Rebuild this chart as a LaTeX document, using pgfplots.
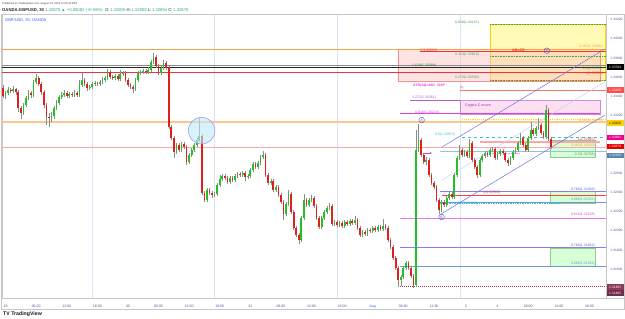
\documentclass[border=0pt]{standalone}
\usepackage{fontspec}
\setmainfont{Liberation Sans}
\usepackage{pgfplots}
\pgfplotsset{compat=1.18}
\usepackage{pgfplotstable}
\usetikzlibrary{arrows.meta}
\newcommand{\fs}[1]{\fontsize{#1}{#1}\selectfont}
\definecolor{cup}{HTML}{22C022}
\definecolor{cdn}{HTML}{E0201C}
\definecolor{wick}{HTML}{8C8C8C}
\definecolor{tvblue}{HTML}{2962FF}
\definecolor{axtxt}{HTML}{4A5A9A}
\definecolor{tvteal}{HTML}{26A69A}
\definecolor{sep}{HTML}{D6E4F5}
\definecolor{fgreen}{HTML}{4C9A4C}
\definecolor{lorange}{HTML}{F7A345}
\definecolor{lred}{HTML}{E53935}
\definecolor{pmag}{HTML}{E040E0}
\definecolor{ppur}{HTML}{B060C8}
\definecolor{lblue}{HTML}{8080F0}
\definecolor{lsteel}{HTML}{6A9BD0}
\definecolor{lcyan}{HTML}{30C0E0}
\definecolor{maroon}{HTML}{8B3A5A}
\definecolor{chan}{HTML}{7070E8}

\pgfplotstableread{
i o h l c
0 1.33486 1.33518 1.33382 1.33403
1 1.33403 1.33455 1.33372 1.33434
2 1.33434 1.33497 1.33414 1.33466
3 1.33466 1.33486 1.33434 1.33455
4 1.33455 1.33507 1.33434 1.33476
5 1.33476 1.33486 1.33414 1.33445
6 1.33445 1.33466 1.33236 1.33278
7 1.33278 1.33299 1.33164 1.33226
8 1.33226 1.33330 1.33205 1.33309
9 1.33309 1.33403 1.33289 1.33382
10 1.33382 1.33466 1.33361 1.33434
11 1.33434 1.33455 1.33382 1.33414
12 1.33414 1.33570 1.33393 1.33549
13 1.33549 1.33632 1.33528 1.33591
14 1.33591 1.33611 1.33507 1.33528
15 1.33528 1.33549 1.33414 1.33445
16 1.33445 1.33466 1.33278 1.33309
17 1.33309 1.33330 1.33101 1.33184
18 1.33184 1.33226 1.33080 1.33174
19 1.33174 1.33236 1.33132 1.33195
20 1.33195 1.33299 1.33164 1.33278
21 1.33278 1.33361 1.33257 1.33330
22 1.33330 1.33414 1.33309 1.33393
23 1.33393 1.33445 1.33372 1.33414
24 1.33414 1.33466 1.33393 1.33434
25 1.33434 1.33455 1.33382 1.33403
26 1.33403 1.33445 1.33382 1.33424
27 1.33424 1.33445 1.33393 1.33414
28 1.33414 1.33466 1.33393 1.33434
29 1.33434 1.33455 1.33393 1.33414
30 1.33414 1.33570 1.33393 1.33518
31 1.33518 1.33643 1.33497 1.33570
32 1.33570 1.33591 1.33507 1.33528
33 1.33528 1.33549 1.33455 1.33486
34 1.33486 1.33518 1.33466 1.33497
35 1.33497 1.33549 1.33476 1.33528
36 1.33528 1.33559 1.33507 1.33539
37 1.33539 1.33549 1.33507 1.33528
38 1.33528 1.33570 1.33507 1.33549
39 1.33549 1.33601 1.33528 1.33570
40 1.33570 1.33611 1.33549 1.33591
41 1.33591 1.33684 1.33570 1.33653
42 1.33653 1.33674 1.33580 1.33601
43 1.33601 1.33622 1.33570 1.33591
44 1.33591 1.33632 1.33570 1.33611
45 1.33611 1.33632 1.33559 1.33580
46 1.33580 1.33674 1.33559 1.33632
47 1.33632 1.33663 1.33611 1.33643
48 1.33643 1.33663 1.33549 1.33570
49 1.33570 1.33591 1.33497 1.33518
50 1.33518 1.33539 1.33476 1.33497
51 1.33497 1.33518 1.33434 1.33476
52 1.33476 1.33591 1.33455 1.33570
53 1.33570 1.33663 1.33549 1.33643
54 1.33643 1.33674 1.33622 1.33653
55 1.33653 1.33684 1.33632 1.33663
56 1.33663 1.33684 1.33632 1.33653
57 1.33653 1.33705 1.33632 1.33674
58 1.33674 1.33778 1.33653 1.33757
59 1.33757 1.33851 1.33736 1.33809
60 1.33809 1.33830 1.33695 1.33716
61 1.33716 1.33736 1.33622 1.33643
62 1.33643 1.33716 1.33622 1.33695
63 1.33695 1.33778 1.33674 1.33747
64 1.33747 1.33768 1.33674 1.33695
65 1.33695 1.33716 1.33059 1.33080
66 1.33080 1.33101 1.32945 1.32966
67 1.32966 1.32987 1.32757 1.32820
68 1.32820 1.32914 1.32799 1.32893
69 1.32893 1.32914 1.32820 1.32841
70 1.32841 1.32924 1.32820 1.32903
71 1.32903 1.32924 1.32851 1.32872
72 1.32872 1.32893 1.32684 1.32716
73 1.32716 1.32809 1.32695 1.32789
74 1.32789 1.32862 1.32768 1.32841
75 1.32841 1.32914 1.32820 1.32893
76 1.32893 1.32966 1.32872 1.32945
77 1.32945 1.33174 1.32924 1.32987
78 1.32987 1.33007 1.32372 1.32393
79 1.32393 1.32414 1.32299 1.32320
80 1.32320 1.32445 1.32299 1.32424
81 1.32424 1.32445 1.32372 1.32393
82 1.32393 1.32414 1.32341 1.32372
83 1.32372 1.32403 1.32351 1.32382
84 1.32382 1.32497 1.32362 1.32476
85 1.32476 1.32580 1.32455 1.32539
86 1.32539 1.32591 1.32518 1.32570
87 1.32570 1.32591 1.32528 1.32549
88 1.32549 1.32570 1.32486 1.32507
89 1.32507 1.32570 1.32486 1.32549
90 1.32549 1.32570 1.32507 1.32528
91 1.32528 1.32591 1.32507 1.32570
92 1.32570 1.32612 1.32549 1.32591
93 1.32591 1.32612 1.32559 1.32580
94 1.32580 1.32622 1.32559 1.32601
95 1.32601 1.32622 1.32518 1.32559
96 1.32559 1.32591 1.32539 1.32570
97 1.32570 1.32653 1.32549 1.32632
98 1.32632 1.32716 1.32612 1.32695
99 1.32695 1.32716 1.32643 1.32664
100 1.32664 1.32726 1.32643 1.32705
101 1.32705 1.32789 1.32684 1.32768
102 1.32768 1.32830 1.32747 1.32789
103 1.32789 1.32809 1.32559 1.32580
104 1.32580 1.32601 1.32476 1.32497
105 1.32497 1.32539 1.32476 1.32518
106 1.32518 1.32539 1.32403 1.32424
107 1.32424 1.32476 1.32403 1.32455
108 1.32455 1.32476 1.32351 1.32372
109 1.32372 1.32393 1.32278 1.32299
110 1.32299 1.32320 1.32112 1.32174
111 1.32174 1.32299 1.32153 1.32278
112 1.32278 1.32424 1.32257 1.32382
113 1.32382 1.32403 1.32174 1.32195
114 1.32195 1.32216 1.32007 1.32028
115 1.32028 1.32049 1.31934 1.31955
116 1.31955 1.31976 1.31862 1.31903
117 1.31903 1.32153 1.31882 1.32132
118 1.32132 1.32382 1.32112 1.32320
119 1.32320 1.32341 1.32247 1.32268
120 1.32268 1.32341 1.32247 1.32320
121 1.32320 1.32372 1.32299 1.32341
122 1.32341 1.32362 1.32237 1.32257
123 1.32257 1.32278 1.32112 1.32132
124 1.32132 1.32153 1.32018 1.32039
125 1.32039 1.32153 1.32018 1.32132
126 1.32132 1.32216 1.32112 1.32195
127 1.32195 1.32257 1.32174 1.32237
128 1.32237 1.32289 1.32216 1.32257
129 1.32257 1.32278 1.32049 1.32070
130 1.32070 1.32112 1.32049 1.32091
131 1.32091 1.32112 1.32039 1.32059
132 1.32059 1.32101 1.32039 1.32080
133 1.32080 1.32101 1.32028 1.32049
134 1.32049 1.32112 1.32028 1.32091
135 1.32091 1.32112 1.32049 1.32070
136 1.32070 1.32122 1.32049 1.32101
137 1.32101 1.32122 1.32059 1.32080
138 1.32080 1.32153 1.32059 1.32112
139 1.32112 1.32132 1.32007 1.32028
140 1.32028 1.32049 1.31934 1.31955
141 1.31955 1.32007 1.31934 1.31987
142 1.31987 1.32007 1.31945 1.31966
143 1.31966 1.32028 1.31945 1.32007
144 1.32007 1.32028 1.31976 1.31997
145 1.31997 1.32049 1.31976 1.32028
146 1.32028 1.32049 1.31987 1.32007
147 1.32007 1.32059 1.31987 1.32039
148 1.32039 1.32059 1.31997 1.32018
149 1.32018 1.32122 1.31997 1.32049
150 1.32049 1.32070 1.32007 1.32028
151 1.32028 1.32049 1.31882 1.31903
152 1.31903 1.31924 1.31809 1.31830
153 1.31830 1.31851 1.31695 1.31716
154 1.31716 1.31736 1.31591 1.31612
155 1.31612 1.31632 1.31414 1.31487
156 1.31487 1.31539 1.31424 1.31518
157 1.31518 1.31632 1.31497 1.31612
158 1.31612 1.31684 1.31591 1.31664
159 1.31664 1.31684 1.31591 1.31612
160 1.31612 1.31632 1.31507 1.31528
161 1.31528 1.31549 1.31403 1.31434
162 1.31434 1.33049 1.31414 1.32841
163 1.32841 1.33111 1.32820 1.32945
164 1.32945 1.32966 1.32768 1.32789
165 1.32789 1.32809 1.32695 1.32716
166 1.32716 1.32768 1.32684 1.32736
167 1.32736 1.32757 1.32559 1.32580
168 1.32580 1.32601 1.32476 1.32497
169 1.32497 1.32518 1.32434 1.32455
170 1.32455 1.32476 1.32299 1.32320
171 1.32320 1.32341 1.32174 1.32216
172 1.32216 1.32320 1.32195 1.32299
173 1.32299 1.32320 1.32247 1.32268
174 1.32268 1.32362 1.32247 1.32341
175 1.32341 1.32403 1.32320 1.32382
176 1.32382 1.32403 1.32330 1.32351
177 1.32351 1.32601 1.32330 1.32580
178 1.32580 1.32778 1.32559 1.32757
179 1.32757 1.32893 1.32736 1.32841
180 1.32841 1.32862 1.32768 1.32789
181 1.32789 1.32841 1.32768 1.32820
182 1.32820 1.32841 1.32757 1.32778
183 1.32778 1.32955 1.32757 1.32914
184 1.32914 1.32934 1.32716 1.32736
185 1.32736 1.32757 1.32643 1.32664
186 1.32664 1.32684 1.32549 1.32580
187 1.32580 1.32757 1.32559 1.32736
188 1.32736 1.32799 1.32716 1.32778
189 1.32778 1.32830 1.32757 1.32809
190 1.32809 1.32830 1.32768 1.32789
191 1.32789 1.32862 1.32768 1.32841
192 1.32841 1.32872 1.32820 1.32851
193 1.32851 1.32872 1.32736 1.32757
194 1.32757 1.32820 1.32736 1.32799
195 1.32799 1.32851 1.32778 1.32830
196 1.32830 1.32851 1.32789 1.32809
197 1.32809 1.32830 1.32716 1.32736
198 1.32736 1.32757 1.32674 1.32705
199 1.32705 1.32778 1.32684 1.32757
200 1.32757 1.32841 1.32736 1.32820
201 1.32820 1.32862 1.32799 1.32841
202 1.32841 1.32934 1.32820 1.32914
203 1.32914 1.33018 1.32893 1.32966
204 1.32966 1.32987 1.32872 1.32893
205 1.32893 1.32914 1.32820 1.32841
206 1.32841 1.32987 1.32820 1.32966
207 1.32966 1.33132 1.32945 1.33049
208 1.33049 1.33070 1.32987 1.33007
209 1.33007 1.33091 1.32987 1.33070
210 1.33070 1.33174 1.33049 1.33101
211 1.33101 1.33122 1.32997 1.33018
212 1.33018 1.33039 1.32955 1.32976
213 1.32976 1.33309 1.32955 1.33257
214 1.33257 1.33278 1.32934 1.32955
215 1.32955 1.32976 1.32851 1.32870
}\candles

\begin{document}
\begin{tikzpicture}
\path[use as bounding box] (0,0) rectangle (625pt,319pt);
\fill[white] (0,0) rectangle (625pt,319pt);
\begin{axis}[
  at={(2pt,21pt)}, anchor=south west, scale only axis,
  width=604pt, height=284pt,
  xmin=-0.4, xmax=236.5, ymin=1.31299, ymax=1.34257,
  axis line style={draw=black!22, line width=0.4pt},
  xtick={1,13,25,37,49,61,73,85,97,109,121,133,145,157,169,181.5,194,206,218,230},
  xticklabels={29,06:00,12:00,18:00,30,06:00,12:00,18:00,31,06:00,12:00,18:00,\textcolor{tvblue}{Aug},06:00,11:30,3,4,06:00,12:00,18:00},
  ytick={1.316,1.318,1.320,1.322,1.324,1.326,1.332,1.334,1.336,1.338,1.340,1.342},
  yticklabels={1.31600,1.31800,1.32000,1.32200,1.32400,1.32600,1.33200,1.33400,1.33600,1.33800,1.34000,1.34200},
  xtick pos=bottom, ytick pos=right, yticklabel pos=right,
  tick align=outside, major tick length=1.5pt,
  xtick style={draw=black!35, line width=0.3pt},
  ytick style={draw=none},
  xticklabel style={font=\fs{3.5}, text=axtxt, yshift=-2pt},
  yticklabel style={font=\fs{3.3}, text=axtxt, anchor=west, xshift=-0.5pt},
  scaled y ticks=false,
  candle/.style={forget plot, draw=none, mark=none, mark options={draw=none, fill=none}},
]
% day separators
\addplot[forget plot, sep, line width=0.5pt] coordinates {(35,1.31299) (35,1.34257)};
\addplot[forget plot, sep, line width=0.5pt] coordinates {(83,1.31299) (83,1.34257)};
\addplot[forget plot, sep, line width=0.5pt] coordinates {(131,1.31299) (131,1.34257)};
\addplot[forget plot, sep, line width=0.5pt] coordinates {(179.2,1.31299) (179.2,1.34257)};
% boxes
\addplot[forget plot, fill=yellow!35, fill opacity=0.8, draw=yellow!70!orange, line width=0.4pt] coordinates {(191,1.34151) (236.1,1.34151) (236.1,1.33570) (191,1.33570) (191,1.34151)};
\addplot[forget plot, fill=red!25, fill opacity=0.45, draw=red!45, line width=0.4pt] coordinates {(154.9,1.33893) (234.1,1.33893) (234.1,1.33562) (154.9,1.33562) (154.9,1.33893)};
\addplot[forget plot, fill=magenta!15, fill opacity=0.8, draw=ppur!70, line width=0.4pt] coordinates {(179.2,1.33361) (234.1,1.33361) (234.1,1.33216) (179.2,1.33216) (179.2,1.33361)};
\addplot[forget plot, fill=green!20, fill opacity=0.8, draw=green!45!black!40, line width=0.3pt] coordinates {(214.5,1.32945) (232.2,1.32945) (232.2,1.32768) (214.5,1.32768) (214.5,1.32945)};
\addplot[forget plot, fill=green!20, fill opacity=0.8, draw=green!45!black!40, line width=0.3pt] coordinates {(214.5,1.32408) (232.2,1.32408) (232.2,1.32291) (214.5,1.32291) (214.5,1.32408)};
\addplot[forget plot, fill=green!20, fill opacity=0.8, draw=green!45!black!40, line width=0.3pt] coordinates {(214.5,1.31823) (232.2,1.31823) (232.2,1.31631) (214.5,1.31631) (214.5,1.31823)};
% full-width levels
\addplot[forget plot, lorange, line width=0.7pt] coordinates {(-0.4,1.33893) (236.5,1.33893)};
\addplot[forget plot, black!45, line width=0.6pt] coordinates {(-0.4,1.33726) (236.5,1.33726)};
\addplot[forget plot, black!85, line width=0.9pt] coordinates {(-0.4,1.33705) (236.5,1.33705)};
\addplot[forget plot, lred, line width=0.7pt] coordinates {(-0.4,1.33653) (236.5,1.33653)};
\addplot[forget plot, orange!45, line width=1.6pt] coordinates {(-0.4,1.33132) (236.5,1.33132)};
\addplot[forget plot, red!35, line width=0.6pt] coordinates {(-0.4,1.32872) (236.5,1.32872)};
% partial levels
\addplot[forget plot, lred, line width=0.9pt] coordinates {(163.5,1.33872) (236.5,1.33872)};
\addplot[forget plot, fgreen, densely dotted, line width=0.6pt] coordinates {(191,1.34151) (236.5,1.34151)};
\addplot[forget plot, fgreen, densely dotted, line width=0.6pt] coordinates {(191,1.33812) (236.5,1.33812)};
\addplot[forget plot, fgreen, densely dotted, line width=0.6pt] coordinates {(191,1.33570) (236.5,1.33570)};
\addplot[forget plot, red!55, line width=0.7pt] coordinates {(179.2,1.33466) (236.5,1.33466)};
\addplot[forget plot, ppur, line width=0.6pt] coordinates {(159.6,1.33361) (179.2,1.33361)};
\addplot[forget plot, pmag, line width=0.7pt] coordinates {(155.7,1.33224) (234.1,1.33224)};
\addplot[forget plot, yellow!80!orange, densely dotted, line width=1.1pt] coordinates {(180,1.33156) (236.5,1.33156)};
\addplot[forget plot, lcyan, dashed, line width=0.7pt] coordinates {(180,1.32972) (236.5,1.32972)};
\addplot[forget plot, red!35, line width=1.6pt] coordinates {(187,1.32924) (234,1.32924)};
\addplot[forget plot, cyan!40!teal!50, line width=0.6pt] coordinates {(171.4,1.32823) (236.5,1.32823)};
\addplot[forget plot, lblue!60, densely dotted, line width=0.6pt] coordinates {(189.8,1.32809) (202.7,1.32809)};
\addplot[forget plot, lblue, line width=0.6pt] coordinates {(171.4,1.32408) (236.5,1.32408)};
\addplot[forget plot, red!75, line width=0.9pt] coordinates {(172.2,1.32365) (236.5,1.32365)};
\addplot[forget plot, lsteel, line width=0.6pt] coordinates {(171.4,1.32291) (236.5,1.32291)};
\addplot[forget plot, lcyan, densely dotted, line width=0.7pt] coordinates {(171.4,1.32280) (218.4,1.32280)};
\addplot[forget plot, pmag!70, line width=0.6pt] coordinates {(155.7,1.32128) (236.5,1.32128)};
\addplot[forget plot, lblue, line width=0.6pt] coordinates {(155.7,1.31823) (236.5,1.31823)};
\addplot[forget plot, lsteel, line width=0.6pt] coordinates {(155.7,1.31631) (236.5,1.31631)};
\addplot[forget plot, maroon, densely dotted, line width=1pt] coordinates {(155.7,1.31417) (236.5,1.31417)};
% channel
\addplot[forget plot, chan, line width=0.5pt] coordinates {(172.2,1.32872) (236.1,1.33893)};
\addplot[forget plot, chan!35, line width=0.5pt] coordinates {(172.2,1.32528) (236.1,1.33549)};
\addplot[forget plot, chan, line width=0.5pt] coordinates {(171.8,1.32174) (236.1,1.33205)};
% candles: wicks
\addplot[candle,
  error bars/.cd, y dir=both, y explicit, error mark=none,
  error bar style={draw=wick, line width=0.45pt}]
  table[x=i, y=c, y error plus expr=\thisrow{h}-\thisrow{c}, y error minus expr=\thisrow{c}-\thisrow{l}] {\candles};
% candles: up bodies
\addplot[candle,
  restrict expr to domain={\thisrow{c}-\thisrow{o}}{0:1},
  error bars/.cd, y dir=minus, y explicit, error mark=none,
  error bar style={draw=cup, line width=1.7pt}]
  table[x=i, y=c, y error minus expr=\thisrow{c}-\thisrow{o}] {\candles};
% candles: down bodies
\addplot[candle,
  restrict expr to domain={\thisrow{o}-\thisrow{c}}{0:1},
  error bars/.cd, y dir=plus, y explicit, error mark=none,
  error bar style={draw=cdn, line width=1.7pt}]
  table[x=i, y=c, y error plus expr=\thisrow{o}-\thisrow{c}] {\candles};
% circle marker
\addplot[forget plot, only marks, mark=*, mark size=13.3pt,
  mark options={fill=cyan!25, fill opacity=0.6, draw=blue!45, line width=0.5pt}]
  coordinates {(77.9,1.33042)};
\addplot[forget plot, only marks, mark=o, mark size=2.8pt,
  mark options={draw=blue!40!gray, line width=0.4pt, fill=white}]
  coordinates {(164.2,1.33153) (172,1.32143) (213.3,1.33875)};
\addplot[forget plot, pmag, line width=0.8pt, -{Stealth[length=2.2pt,width=2.4pt]}] coordinates {(164.6,1.32809) (168.2,1.32809)};
\end{axis}

\begin{scope}[shift={(0pt,319pt)}, x=1pt, y=-1pt]
% frame
\draw[black!22, line width=0.4pt] (1,14) rectangle (624,309);
\draw[black!22, line width=0.4pt] (606,298) -- (624,298);
% header
\node[anchor=west, inner sep=0, font=\fs{2.7}, text=black!75] at (2,4) {Published on TradingView.com, August 04, 2025 11:05:24 EDT};
\node[anchor=west, inner sep=0, font=\fs{4.2}, text=black!85] at (2,10) {\textbf{OANDA:GBPUSD, 30}\ \textcolor{tvteal}{1.32870 ▲ +0.00082 (+0.06\%)}\ \ O:\,\textcolor{tvteal}{1.32805}\ H:\,\textcolor{tvteal}{1.32909}\ L:\,\textcolor{tvteal}{1.32854}\ C:\,\textcolor{tvteal}{1.32870}};
\node[anchor=west, inner sep=0, font=\fs{4}, text=tvblue] at (5,20.7) {GBP/USD, 30, OANDA};
% footer logo
\node[anchor=west, inner sep=0, font=\fs{5.2}\bfseries, text=black!90] at (3,314) {TV\ TradingView};
% circle letters
\node[inner sep=0, font=\fs{3.4}, text=blue!40!gray] at (421.8,120) {A};
\node[inner sep=0, font=\fs{3.4}, text=blue!40!gray] at (441.5,217) {B};
\node[inner sep=0, font=\fs{3.4}, text=blue!40!gray] at (547,50.7) {C};
% fib texts left
\node[anchor=west, inner sep=0, font=\fs{3.5}, text=fgreen] at (455,22.5) {0.618(1.34151)};
\node[anchor=west, inner sep=0, font=\fs{3.5}, text=lred] at (420,50.5) {1(1.33893)};
\node[anchor=west, inner sep=0, font=\fs{3.6}\bfseries, text=lred] at (512,50.5) {AB=CD};
\node[anchor=west, inner sep=0, font=\fs{3.5}, text=fgreen!70!gray] at (455,54.5) {0.414(1.33810)};
\node[anchor=west, inner sep=0, font=\fs{3.5}, text=fgreen!80!black] at (412,65.5) {1.618(1.33688)};
\node[anchor=west, inner sep=0, font=\fs{3.5}, text=fgreen!70!gray] at (455,77.5) {0.272(1.33590)};
\node[anchor=west, inner sep=0, font=\fs{3.5}\bfseries\itshape, text=pmag] at (413,85.5) {ATR(14)=46D\ \ 334P};
\node[anchor=west, inner sep=0, font=\fs{3}, text=lred] at (460,87.3) {[1]};
\node[anchor=west, inner sep=0, font=\fs{3.5}, text=ppur] at (412,97.5) {1.272(1.33361)};
\node[anchor=west, inner sep=0, font=\fs{3.6}\bfseries, text=ppur] at (465,105.5) {Crypto C move};
\node[anchor=west, inner sep=0, font=\fs{3.5}, text=pmag] at (415,112.3) {0.618(1.33224)};
\node[anchor=west, inner sep=0, font=\fs{3.5}, text=lcyan] at (435,135) {0.5(1.32972)};
\node[anchor=west, inner sep=0, font=\fs{3.5}, text=lred] at (483,193) {1(1.32365)};
\node[anchor=west, inner sep=0, font=\fs{3.5}, text=lcyan] at (458,203.2) {0.5(1.32280)};
% fib texts right
\node[anchor=east, inner sep=0, font=\fs{3.5}, text=lorange] at (603,46.5) {0.382(1.33896)};
\node[anchor=east, inner sep=0, font=\fs{3.5}, text=fgreen] at (603,68.3) {0.5(1.33722)};
\node[anchor=east, inner sep=0, font=\fs{3.5}, text=lred] at (603,74) {1(1.33653)};
\node[anchor=east, inner sep=0, font=\fs{3.5}, text=lorange] at (603,120.5) {0.382(1.33156)};
\node[anchor=east, inner sep=0, font=\fs{3.5}, text=lred] at (595,139.5) {1(1.32945)};
\node[anchor=east, inner sep=0, font=\fs{3.5}, text=lorange] at (595,145.5) {0.382(1.32893)};
\node[anchor=east, inner sep=0, font=\fs{3.5}, text=fgreen] at (595,155) {0.5(1.32793)};
\node[anchor=east, inner sep=0, font=\fs{3.5}, text=lblue!80!black] at (595,189.3) {0.786(1.32408)};
\node[anchor=east, inner sep=0, font=\fs{3.5}, text=lsteel] at (595,200) {0.886(1.32291)};
\node[anchor=east, inner sep=0, font=\fs{3.5}, text=pmag] at (595,214.5) {0.618(1.32128)};
\node[anchor=east, inner sep=0, font=\fs{3.5}, text=lblue!80!black] at (595,245.5) {0.786(1.31823)};
\node[anchor=east, inner sep=0, font=\fs{3.5}, text=lsteel] at (595,263.5) {0.886(1.31631)};
% price badges
\tikzset{badge/.style={anchor=west, font=\fs{3.3}, inner xsep=0.6pt, inner ysep=0pt, minimum height=5.6pt, minimum width=17pt}}
\node[badge, fill=black, text=white] at (606.5,67) {1.33704};
\node[badge, fill=red!70, text=white] at (606.5,90) {1.33468};
\node[badge, fill=yellow!70!orange, text=black] at (606.5,123) {1.33156};
\node[badge, fill=magenta, text=white] at (606.5,137.5) {1.32982};
\node[badge, fill=red!90!black, text=white] at (606.5,146.5) {1.32879};
\node[badge, fill=lsteel!85!black, text=white] at (606.5,155.5) {1.32768};
\node[badge, fill=maroon, text=white] at (606.5,287) {1.31485};
\node[badge, fill=maroon!80!black, text=white] at (606.5,293) {1.31405};
\end{scope}
\end{tikzpicture}
\end{document}
